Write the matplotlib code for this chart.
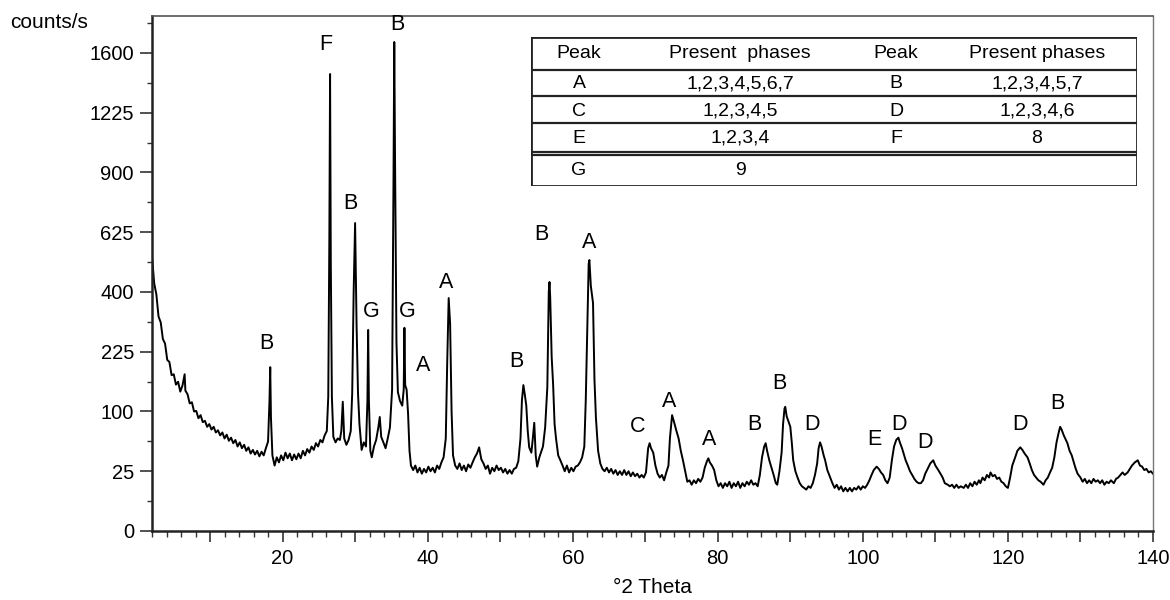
import numpy as np
import matplotlib
matplotlib.use('Agg')
import matplotlib.pyplot as plt
from matplotlib.ticker import MultipleLocator, FixedLocator, FuncFormatter

plt.rcParams['font.family'] = ['Liberation Sans', 'DejaVu Sans']

# --- diffractogram ---
tth_low = [2.0, 2.3, 2.6, 2.9, 3.2, 3.5, 3.8, 4.1, 4.4, 4.7, 5.0, 5.3, 5.6, 5.9, 6.2, 6.5, 6.6, 6.9,
           7.2, 7.5, 7.8, 8.1, 8.4, 8.7, 9.0, 9.3, 9.6, 9.9, 10.2, 10.5, 10.8, 11.1, 11.4, 11.7,
           12.0, 12.3, 12.6, 12.9, 13.2, 13.5, 13.8, 14.1, 14.4, 14.7, 15.0, 15.3, 15.6, 15.9,
           16.2, 16.5, 16.8, 17.1, 17.4, 17.7, 18.0, 18.2, 18.3, 18.4, 18.6, 18.9, 19.2, 19.5,
           19.8, 20.1, 20.4, 20.7, 21.0, 21.3, 21.6, 21.9]
cps_low = [530, 430, 392, 322, 305, 258, 246, 205, 200, 170, 172, 150, 156, 136, 148, 172, 138, 131,
           114, 116, 100, 101, 89, 94, 83, 85, 76, 80, 72, 76, 68, 71, 64, 68,
           60, 65, 57, 61, 54, 58, 50, 55, 48, 52, 45, 49, 42, 46,
           41, 45, 39, 44, 40, 48, 56, 120, 188, 90, 40, 30, 38, 33,
           40, 35, 43, 37, 42, 35, 41, 36]

tth_main = [22.2, 22.5, 22.8, 23.1, 23.4, 23.7, 24.0, 24.3, 24.6, 24.9, 25.2, 25.5, 25.8, 26.1,
            26.3, 26.45, 26.55, 26.65, 26.8, 27.0, 27.3, 27.6, 27.9, 28.1, 28.3, 28.5, 28.8,
            29.1, 29.4, 29.6, 29.8, 30.0, 30.2, 30.4, 30.6, 30.9, 31.2, 31.5, 31.7, 31.8, 31.9,
            32.1, 32.3, 32.6, 32.9, 33.2, 33.4, 33.6, 33.9, 34.2, 34.5, 34.8, 35.1, 35.3, 35.4,
            35.5, 35.7, 35.9, 36.2, 36.5, 36.7, 36.8, 36.9, 37.1, 37.3, 37.5, 37.7, 38.0, 38.3,
            38.6, 38.9, 39.2, 39.5, 39.8, 40.1, 40.4, 40.7, 41.0, 41.3, 41.6, 41.9, 42.2, 42.5,
            42.7, 42.9, 43.1, 43.3, 43.5, 43.8]
cps_main = [42, 37, 45, 40, 47, 43, 50, 46, 54, 50, 58, 55, 64, 70,
            126, 600, 1462, 500, 126, 62, 55, 60, 58, 70, 117, 60, 52,
            58, 70, 133, 400, 664, 300, 133, 80, 46, 55, 50, 120, 283, 120,
            45, 38, 50, 58, 75, 91, 62, 55, 48, 60, 75, 140, 900, 1674,
            1000, 250, 135, 118, 110, 140, 289, 149, 140, 97, 45, 30, 26, 30,
            24, 28, 23, 27, 24, 29, 25, 28, 24, 30, 27, 33, 38, 60,
            200, 380, 300, 100, 40, 30]

tth_mid = [44.1, 44.4, 44.7, 45.0, 45.3, 45.6, 45.9, 46.2, 46.5, 46.8, 47.1, 47.4, 47.7, 48.0,
           48.3, 48.6, 48.9, 49.2, 49.5, 49.8, 50.1, 50.4, 50.7, 51.0, 51.3, 51.6, 51.9, 52.2,
           52.5, 52.8, 53.0, 53.2, 53.4, 53.6, 53.8, 54.0, 54.3, 54.5, 54.7, 54.9, 55.1, 55.4,
           55.7, 55.9, 56.2, 56.5, 56.7, 56.8, 56.9, 57.1, 57.3, 57.5, 57.7, 58.0, 58.3, 58.6,
           58.9, 59.2, 59.5, 59.8, 60.1, 60.4, 60.7, 61.0, 61.3, 61.6, 61.8, 62.0, 62.2, 62.3,
           62.5, 62.8, 63.0, 63.2, 63.5, 63.8, 64.1, 64.4, 64.7, 65.0, 65.3, 65.6, 65.9, 66.2,
           66.5, 66.8, 67.1, 67.4, 67.7, 68.0, 68.3, 68.6, 68.9, 69.2, 69.5, 69.8, 70.1, 70.4,
           70.6, 70.8, 71.1, 71.4, 71.7, 72.0, 72.3, 72.6, 72.9, 73.2, 73.4, 73.7, 74.0, 74.3,
           74.6, 74.9, 75.2, 75.5, 75.8, 76.1, 76.4, 76.7, 77.0, 77.3, 77.6, 77.9, 78.2, 78.5,
           78.7, 78.9, 79.2, 79.5, 79.8]
cps_mid = [27, 32, 26, 30, 25, 31, 28, 33, 38, 42, 49, 36, 32, 27,
           30, 23, 28, 25, 30, 26, 28, 24, 27, 23, 26, 23, 27, 28,
           34, 60, 120, 149, 130, 110, 70, 49, 43, 60, 82, 40, 29, 38,
           45, 50, 75, 145, 400, 434, 380, 212, 150, 80, 60, 40, 35, 30,
           25, 30, 24, 28, 25, 29, 30, 33, 38, 50, 120, 283, 500, 514,
           420, 364, 160, 90, 45, 32, 27, 25, 28, 24, 27, 23, 26, 22,
           25, 22, 26, 22, 25, 21, 24, 21, 23, 20, 22, 20, 24, 48,
           54, 48, 43, 30, 23, 20, 22, 18, 24, 30, 60, 94, 82, 70,
           60, 45, 35, 25, 17, 18, 15, 18, 16, 19, 17, 20, 28, 34,
           37, 33, 30, 26, 18]

tth_high = [80.1, 80.4, 80.7, 81.0, 81.3, 81.6, 81.9, 82.2, 82.5, 82.8, 83.1, 83.4, 83.7, 84.0,
            84.3, 84.6, 84.9, 85.2, 85.5, 85.8, 86.1, 86.4, 86.6, 86.8, 87.1, 87.4, 87.7, 88.0,
            88.2, 88.5, 88.8, 89.0, 89.2, 89.3, 89.5, 89.8, 90.0, 90.2, 90.4, 90.7, 91.0, 91.3,
            91.6, 91.9, 92.2, 92.5, 92.8, 93.1, 93.4, 93.7, 93.9, 94.1, 94.3, 94.6, 94.8, 95.1,
            95.5, 95.8, 96.1, 96.4, 96.7, 97.0, 97.3, 97.6, 97.9, 98.2, 98.5, 98.8, 99.1, 99.4,
            99.7, 100.0, 100.3, 100.6, 100.9, 101.2, 101.5, 101.9, 102.2, 102.5, 102.8, 103.1,
            103.4, 103.7, 104.0, 104.3, 104.6, 104.9, 105.1, 105.4, 105.7, 105.9, 106.2, 106.5,
            106.8, 107.1, 107.4, 107.7, 108.0, 108.3, 108.6, 109.0, 109.3, 109.7, 110.0, 110.3,
            110.7, 111.0, 111.3, 111.7, 112.0, 112.3, 112.6, 112.9, 113.2, 113.5, 113.9, 114.2,
            114.5, 114.8, 115.1, 115.4, 115.7, 116.0, 116.2, 116.5, 116.8, 117.1, 117.4, 117.6,
            117.9, 118.2, 118.5, 118.8, 119.1, 119.4, 119.7, 120.0, 120.3, 120.6, 121.0, 121.3,
            121.7, 122.0, 122.3, 122.7, 123.0, 123.3, 123.6, 123.9, 124.2, 124.5, 124.9, 125.2,
            125.5, 125.8, 126.1, 126.4, 126.7, 127.0, 127.2, 127.4, 127.7, 128.0, 128.2, 128.5,
            128.8, 129.0, 129.3, 129.6, 130.0, 130.3, 130.6, 130.9, 131.2, 131.5, 131.8, 132.1,
            132.4, 132.7, 133.0, 133.3, 133.6, 133.9, 134.2, 134.6, 134.9, 135.2, 135.5, 135.8,
            136.1, 136.5, 136.8, 137.1, 137.5, 137.9, 138.2, 138.5, 138.8, 139.1, 139.4, 139.7,
            140.0]
cps_high = [14, 16, 13, 16, 14, 17, 13, 16, 14, 17, 13, 16, 14, 17,
            15, 18, 15, 16, 14, 22, 38, 50, 54, 45, 35, 28, 22, 16,
            15, 25, 43, 80, 105, 108, 92, 82, 76, 55, 35, 25, 20, 16,
            14, 13, 12, 14, 13, 16, 22, 32, 48, 55, 50, 40, 35, 26,
            20, 16, 13, 15, 12, 14, 11, 13, 11, 13, 11, 13, 12, 14,
            12, 14, 13, 15, 18, 22, 26, 29, 27, 24, 22, 18,
            16, 20, 35, 50, 58, 61, 55, 48, 40, 35, 30, 25,
            22, 19, 17, 16, 16, 18, 23, 28, 32, 35, 30, 27,
            23, 20, 16, 15, 14, 15, 13, 15, 13, 14, 13, 15,
            13, 16, 14, 17, 15, 18, 16, 20, 18, 22, 20, 24,
            21, 22, 19, 20, 17, 16, 14, 13, 20, 30, 38, 45,
            49, 46, 42, 38, 32, 26, 22, 20, 18, 17, 15, 18,
            20, 24, 28, 38, 55, 68, 76, 72, 64, 58, 54, 45,
            40, 35, 28, 23, 20, 17, 19, 16, 18, 16, 19, 17,
            18, 16, 18, 15, 17, 16, 18, 16, 19, 20, 22, 24,
            22, 24, 27, 30, 33, 35, 30, 29, 26, 27, 24, 25,
            23]

tth = np.array(tth_low + tth_main + tth_mid + tth_high)
cps = np.array(cps_low + cps_main + cps_mid + cps_high)

# peak letters and where they sit
peak_letters = ['B', 'F', 'B', 'G', 'B', 'G', 'A', 'A', 'B', 'B', 'A',
                'C', 'A', 'A', 'B', 'B', 'D', 'E', 'D', 'D', 'D', 'B']
letter_tth = [17.7, 26.0, 29.3, 32.2, 35.8, 37.2, 39.4, 42.6, 52.2, 55.7, 62.3,
              68.9, 73.3, 78.8, 85.0, 88.5, 93.0, 101.6, 105.0, 108.6, 121.7, 126.8]
letter_cps = [247, 1654, 749, 336, 1793, 336, 191, 434, 200, 614, 581,
              76, 117, 58, 80, 153, 79, 58, 79, 55, 79, 113]

# phase table
table_header = ['Peak', 'Present  phases', 'Peak', 'Present phases']
table_rows = [['A', '1,2,3,4,5,6,7', 'B', '1,2,3,4,5,7'],
              ['C', '1,2,3,4,5', 'D', '1,2,3,4,6'],
              ['E', '1,2,3,4', 'F', '8'],
              ['G', '9', '', '']]

yticks = [0, 25, 100, 225, 400, 625, 900, 1225, 1600]


def fwd(y):
    return np.sqrt(np.clip(y, 0, None))


def inv(y):
    return np.square(y)


fig = plt.figure(figsize=(11.7, 6), dpi=100)
ax = fig.add_axes([152/1170, 69/600, 1001/1170, 515/600])
ax.plot(tth, cps, color='black', lw=1.4)
ax.set_yscale('function', functions=(fwd, inv))
ax.set_xlim(2, 140)
ax.set_ylim(0, 1857)

ax.yaxis.set_major_locator(FixedLocator(yticks))
ax.yaxis.set_minor_locator(FixedLocator([(k + 0.5) ** 2 * 25 for k in range(9)]))
ax.set_yticklabels([str(v) for v in yticks])
ax.xaxis.set_major_locator(MultipleLocator(10))
ax.xaxis.set_minor_locator(MultipleLocator(2))
ax.xaxis.set_major_formatter(FuncFormatter(lambda v, p: '%d' % v if v % 20 == 0 and v > 0 else ''))

ax.tick_params(axis='both', which='major', labelsize=14.5, color='#333333', width=1.2)
ax.tick_params(axis='y', which='major', length=9, pad=4)
ax.tick_params(axis='y', which='minor', length=3.5, width=1.0, color='#333333')
ax.tick_params(axis='x', which='major', length=8, pad=5)
ax.tick_params(axis='x', which='minor', length=4.5, width=1.0, color='#333333')

ax.spines['left'].set_linewidth(1.8)
ax.spines['bottom'].set_linewidth(1.8)
ax.spines['left'].set_color('#222222')
ax.spines['bottom'].set_color('#222222')
ax.spines['top'].set_linewidth(1.2)
ax.spines['right'].set_linewidth(1.0)
ax.spines['top'].set_color('#555555')
ax.spines['right'].set_color('#777777')

ax.set_xlabel('°2 Theta', fontsize=15, labelpad=7)
fig.text(10/1170, 1 - 22/600, 'counts/s', fontsize=15, ha='left', va='center')

for s, x, y in zip(peak_letters, letter_tth, letter_cps):
    ax.text(x, y, s, fontsize=15.5, ha='center', va='center')

# table drawn in its own little axes, in pixel units
tab = fig.add_axes([531/1170, 1 - 186/600, 606/1170, 149/600])
tab.set_xlim(0, 606)
tab.set_ylim(149, 0)
tab.axis('off')
tab.add_patch(plt.Rectangle((0, 0), 606, 149, fill=False, lw=2.0, ec='#222222'))
for yl in [33, 59, 86, 115, 118]:
    tab.plot([0, 606], [yl, yl], color='#222222', lw=1.6)
col_x = [48, 209, 365, 506]
row_y = [17, 47, 74, 101, 133]
for cx, txt in zip(col_x, table_header):
    tab.text(cx, row_y[0], txt, fontsize=14, ha='center', va='center')
for ry, row in zip(row_y[1:], table_rows):
    for cx, txt in zip(col_x, row):
        tab.text(cx, ry, txt, fontsize=14, ha='center', va='center')

fig.savefig('out.png', dpi=100)
